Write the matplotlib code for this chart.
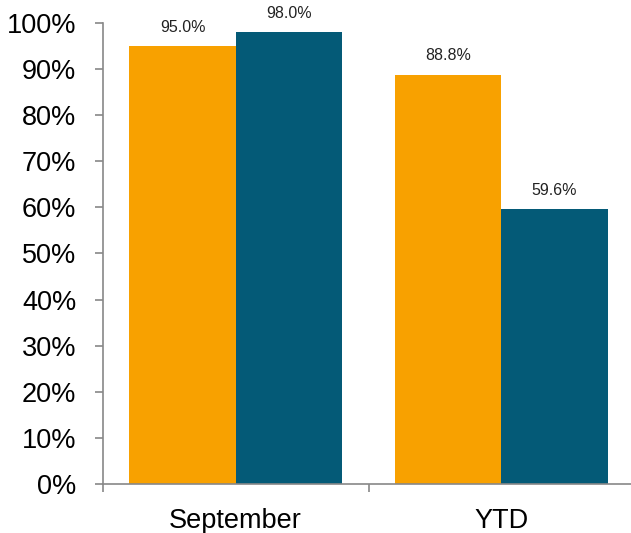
import numpy as np
import matplotlib.pyplot as plt
from matplotlib.ticker import PercentFormatter

plt.rcParams['font.family'] = ['Liberation Sans', 'DejaVu Sans']

# Data
categories = ['September', 'YTD']
series_a = [95.0, 88.8]
series_b = [98.0, 59.6]

orange = '#F8A100'
teal = '#045A77'
grey = '#888888'

fig = plt.figure(figsize=(6.31, 5.33), dpi=100)
ax = fig.add_axes([0.163, 0.092, 0.842, 0.865])

x = np.arange(len(categories))
w = 0.4
bars_a = ax.bar(x - w / 2, series_a, w, color=orange)
bars_b = ax.bar(x + w / 2, series_b, w, color=teal)

for bars in (bars_a, bars_b):
    for b in bars:
        ax.annotate(f'{b.get_height():.1f}%',
                    (b.get_x() + b.get_width() / 2, b.get_height()),
                    xytext=(0, 8), textcoords='offset points',
                    ha='center', va='bottom', fontsize=11.5, color='#222222')

ax.set_xlim(-0.5, 1.5)
ax.set_ylim(0, 100)
ax.set_yticks(range(0, 101, 10))
ax.yaxis.set_major_formatter(PercentFormatter(decimals=0))

# category labels centred, ticks at the boundaries
ax.set_xticks(x)
ax.set_xticklabels(categories, fontsize=19.5)
ax.set_xticks([-0.5, 0.5, 1.5], minor=True)
ax.tick_params(axis='x', which='major', length=0, pad=17)
ax.tick_params(axis='x', which='minor', length=6, color=grey, width=1.2)
ax.tick_params(axis='y', length=6, color=grey, width=1.2, labelsize=19.5, pad=13)

for s in ('top', 'right'):
    ax.spines[s].set_visible(False)
for s in ('left', 'bottom'):
    ax.spines[s].set_color(grey)
    ax.spines[s].set_linewidth(1.2)

fig.savefig('out.png', dpi=100)
